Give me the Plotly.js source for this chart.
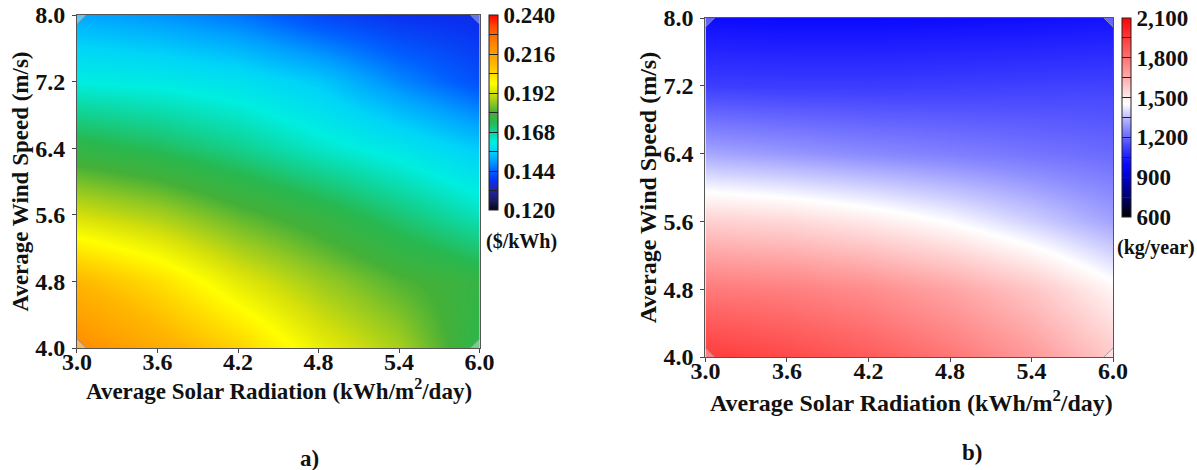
<!DOCTYPE html>
<html>
<head>
<meta charset="utf-8">
<script src="https://cdn.plot.ly/plotly-3.0.1.min.js"></script>
<style>
  html, body { margin: 0; padding: 0; background: #fff; }
  #chart { width: 1197px; height: 470px; }
</style>
</head>
<body>
<div id="chart"></div>
<script>
// ---- data ----
const solar = [3.0, 3.6, 4.2, 4.8, 5.4, 6.0];   // Average Solar Radiation (kWh/m2/day)
const wind  = [4.0, 4.8, 5.6, 6.4, 7.2, 8.0];   // Average Wind Speed (m/s)

// a) cost of energy ($/kWh), rows = wind, cols = solar
const lcoe = [
  [0.221, 0.213, 0.205, 0.195, 0.188, 0.175],
  [0.210, 0.203, 0.194, 0.187, 0.181, 0.177],
  [0.192, 0.188, 0.182, 0.177, 0.171, 0.165],
  [0.176, 0.173, 0.169, 0.164, 0.160, 0.155],
  [0.162, 0.161, 0.159, 0.155, 0.148, 0.142],
  [0.151, 0.149, 0.146, 0.141, 0.138, 0.137]
];

// b) emissions (kg/year), rows = wind, cols = solar
const emis = [
  [1950, 1910, 1860, 1790, 1700, 1580],
  [1780, 1765, 1730, 1670, 1590, 1475],
  [1565, 1545, 1505, 1450, 1380, 1305],
  [1315, 1290, 1265, 1245, 1225, 1205],
  [1120, 1115, 1115, 1120, 1125, 1130],
  [1010, 1005, 1005, 1010, 1015, 1025]
];

// design points at the corners of the domain
const cornerSolar = [3.0, 6.0, 3.0, 6.0];
const cornerWind  = [4.0, 4.0, 8.0, 8.0];

const cbTicksA  = [0.120, 0.132, 0.144, 0.156, 0.168, 0.180, 0.192, 0.204, 0.216, 0.228, 0.240];
const cbLabelsA = ['0.120', '', '0.144', '', '0.168', '', '0.192', '', '0.216', '', '0.240'];
const cbTicksB  = [600, 750, 900, 1050, 1200, 1350, 1500, 1650, 1800, 1950, 2100];
const cbLabelsB = ['600', '', '900', '', '1,200', '', '1,500', '', '1,800', '', '2,100'];

const xTitle = 'Average Solar Radiation (kWh/m<sup>2</sup>/day)';
const yTitle = 'Average Wind Speed (m/s)';
const unitA = '($/kWh)';
const unitB = '(kg/year)';

// ---- styling ----
const F = 'Liberation Serif, Times New Roman, serif';
const tickFont = {family: F, size: 24, color: '#111', weight: 'bold'};

const scaleA = [
  [0.00, '#05051a'], [0.05, '#1c1c62'], [0.10, '#2424a8'], [0.15, '#0a30f0'],
  [0.20, '#0060ff'], [0.25, '#00a0ff'], [0.30, '#00d4f8'], [0.35, '#00eee0'],
  [0.40, '#10d498'], [0.45, '#28b850'], [0.50, '#44b038'], [0.55, '#92c822'],
  [0.60, '#d6e00a'], [0.65, '#ffff00'], [0.70, '#ffd800'], [0.75, '#ffb600'],
  [0.80, '#ffa000'], [0.85, '#ff8600'], [0.90, '#ff6800'], [0.95, '#ff4000'],
  [1.00, '#ff0000']
];
const scaleB = [
  [0.00, '#000000'], [0.10, '#000070'], [0.20, '#0000d0'], [0.27, '#0a0aff'],
  [0.35, '#4040ff'], [0.45, '#9090ff'], [0.52, '#d0d0ff'], [0.57, '#ffffff'],
  [0.63, '#ffd8d8'], [0.72, '#ffa0a0'], [0.82, '#ff6666'], [0.92, '#ff3030'],
  [1.00, '#ff0000']
];

function cb(x, yTop, lenPx, vals, text) {
  return {
    x: x, xanchor: 'left', y: yTop, yanchor: 'top',
    len: lenPx, lenmode: 'pixels', thickness: 9, thicknessmode: 'pixels',
    outlinecolor: '#222', outlinewidth: 1,
    tickmode: 'array', tickvals: vals, ticktext: text,
    ticks: 'inside', ticklen: 9, tickcolor: '#222', tickwidth: 1,
    tickfont: {family: F, size: 23, color: '#111', weight: 'bold'},
    ypad: 0, xpad: 0
  };
}

const corner = (xa, ya) => ({
  type: 'scatter', mode: 'markers', x: cornerSolar, y: cornerWind,
  xaxis: xa, yaxis: ya, cliponaxis: true, hoverinfo: 'skip',
  marker: {symbol: 'diamond', size: 14, color: 'rgba(255,255,255,0.35)',
           line: {color: 'rgba(150,150,160,0.85)', width: 1}}
});

const traces = [
  {
    type: 'heatmap', x: solar, y: wind, z: lcoe, zsmooth: 'best',
    colorscale: scaleA, zmin: 0.120, zmax: 0.240,
    colorbar: cb(489/1197, 1 - 15/470, 195, cbTicksA, cbLabelsA),
    xaxis: 'x', yaxis: 'y', hoverinfo: 'x+y+z'
  },
  {
    type: 'heatmap', x: solar, y: wind, z: emis, zsmooth: 'best',
    colorscale: scaleB, zmin: 600, zmax: 2100,
    colorbar: cb(1122/1197, 1 - 18/470, 199, cbTicksB, cbLabelsB),
    xaxis: 'x2', yaxis: 'y2', hoverinfo: 'x+y+z'
  },
  corner('x', 'y'),
  corner('x2', 'y2')
];

function xa(domain, anchor) {
  return {
    domain: domain, anchor: anchor, range: [3, 6],
    tickmode: 'array', tickvals: solar, tickformat: '.1f',
    ticks: 'outside', ticklen: 4, tickcolor: '#444',
    ticklabelstandoff: -12,
    showline: true, linecolor: '#555', linewidth: 1, mirror: true,
    showgrid: false, zeroline: false, automargin: false,
    tickfont: tickFont
  };
}
function ya(domain, anchor, titleSize) {
  return {
    domain: domain, anchor: anchor, range: [4, 8],
    tickmode: 'array', tickvals: wind, tickformat: '.1f',
    ticks: 'outside', ticklen: 4, tickcolor: '#444',
    ticklabelstandoff: 2,
    showline: true, linecolor: '#555', linewidth: 1, mirror: true,
    showgrid: false, zeroline: false, automargin: false,
    tickfont: tickFont,
    title: {text: yTitle, font: {family: F, size: titleSize, color: '#111', weight: 'bold'}, standoff: 0}
  };
}

const annFont = s => ({family: F, size: s, color: '#111', weight: 'bold'});
const layout = {
  width: 1197, height: 470,
  margin: {l: 0, r: 0, t: 0, b: 0},
  paper_bgcolor: '#fff', plot_bgcolor: '#fff',
  showlegend: false,
  xaxis:  xa([77/1197, 480/1197], 'y'),
  yaxis:  ya([1 - 348/470, 1 - 15/470], 'x', 23),
  xaxis2: xa([706/1197, 1114/1197], 'y2'),
  yaxis2: ya([1 - 357/470, 1 - 18/470], 'x2', 24),
  annotations: [
    {text: xTitle, xref: 'paper', yref: 'paper', x: 279/1197, y: 1 - 389/470,
     xanchor: 'center', yanchor: 'middle', showarrow: false, font: annFont(23)},
    {text: xTitle, xref: 'paper', yref: 'paper', x: 912/1197, y: 1 - 401/470,
     xanchor: 'center', yanchor: 'middle', showarrow: false, font: annFont(24)},
    {text: unitA, xref: 'paper', yref: 'paper', x: 522/1197, y: 1 - 241/470,
     xanchor: 'center', yanchor: 'middle', showarrow: false, font: annFont(20)},
    {text: unitB, xref: 'paper', yref: 'paper', x: 1157/1197, y: 1 - 247/470,
     xanchor: 'center', yanchor: 'middle', showarrow: false, font: annFont(20)},
    {text: 'a)', xref: 'paper', yref: 'paper', x: 310/1197, y: 1 - 458/470,
     xanchor: 'center', yanchor: 'middle', showarrow: false, font: annFont(23)},
    {text: 'b)', xref: 'paper', yref: 'paper', x: 973/1197, y: 1 - 452/470,
     xanchor: 'center', yanchor: 'middle', showarrow: false, font: annFont(23)}
  ]
};

Plotly.newPlot('chart', traces, layout, {displayModeBar: false, staticPlot: true});
</script>
</body>
</html>
